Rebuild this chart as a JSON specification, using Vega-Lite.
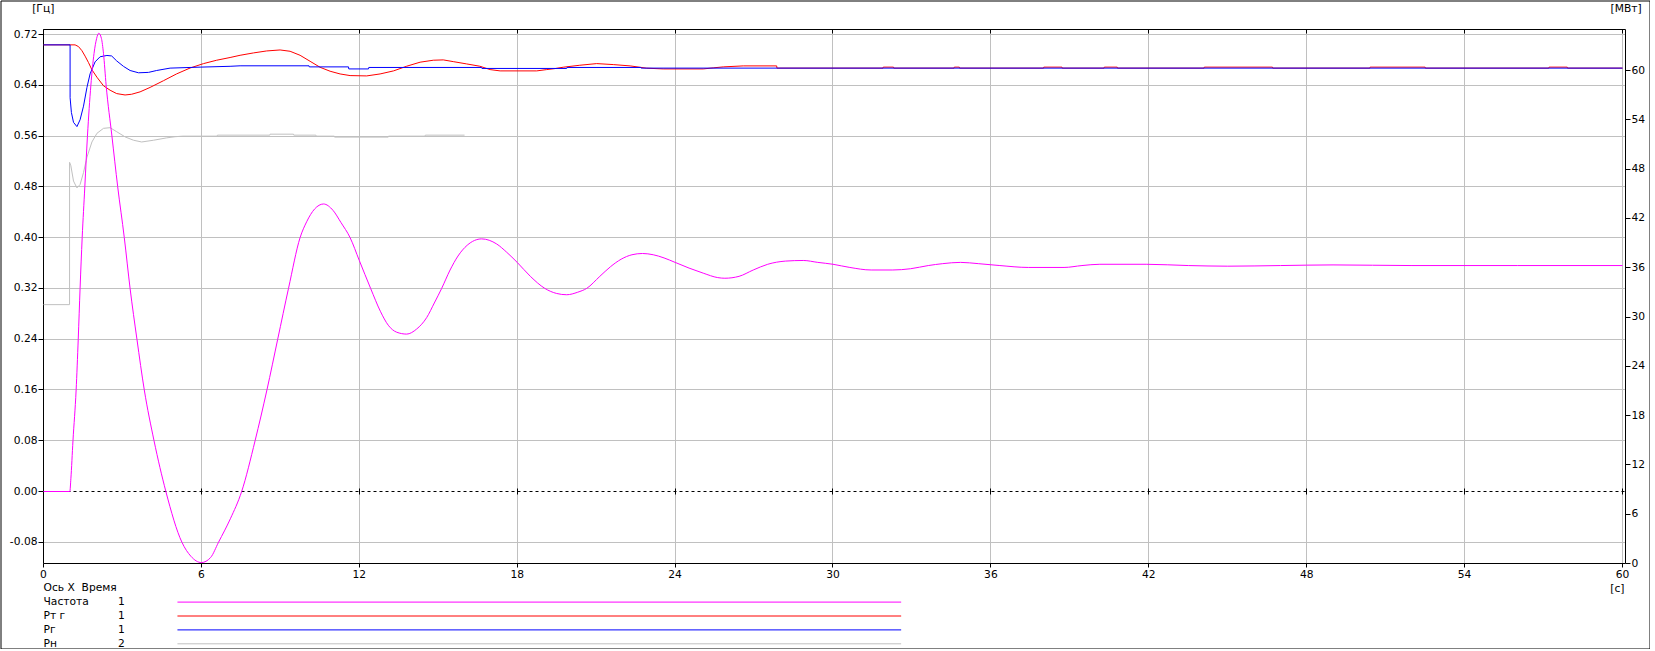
{
  "$schema": "https://vega.github.io/schema/vega-lite/v6.json",
  "width": 1649,
  "height": 648,
  "padding": {"left": 0.5, "top": 0.5, "right": 0.5, "bottom": 0.5},
  "autosize": {"type": "none"},
  "background": "#ffffff",
  "config": {
    "font": "DejaVu Sans",
    "view": {"stroke": "#000000", "strokeWidth": 1},
    "axis": {
      "labelFont": "DejaVu Sans", "labelFontSize": 10.7, "labelColor": "#000000",
      "titleFont": "DejaVu Sans", "titleFontSize": 10.7, "titleFontWeight": "normal", "titleColor": "#000000",
      "domainColor": "#000000", "tickColor": "#000000", "gridColor": "#c0c0c0",
      "domainWidth": 1, "tickWidth": 1, "gridWidth": 1, "translate": 0, "labelFlush": false, "labelOverlap": false
    }
  },
  "datasets": {
    "curves": [
      {"s":"Частота","t":0,"v":0},{"s":"Частота","t":1.0,"v":0},{"s":"Частота","t":1.04,"v":0.02},{"s":"Частота","t":1.12,"v":0.08},{"s":"Частота","t":1.24,"v":0.16},{"s":"Частота","t":1.32,"v":0.24},{"s":"Частота","t":1.39,"v":0.32},{"s":"Частота","t":1.47,"v":0.40},{"s":"Частота","t":1.57,"v":0.48},{"s":"Частота","t":1.67,"v":0.56},{"s":"Частота","t":1.8,"v":0.64},{"s":"Частота","t":1.92,"v":0.69},{"s":"Частота","t":2.02,"v":0.714},{"s":"Частота","t":2.1,"v":0.722},{"s":"Частота","t":2.2,"v":0.714},{"s":"Частота","t":2.28,"v":0.69},{"s":"Частота","t":2.38,"v":0.64},{"s":"Частота","t":2.6,"v":0.56},{"s":"Частота","t":2.82,"v":0.48},{"s":"Частота","t":3.07,"v":0.40},{"s":"Частота","t":3.29,"v":0.32},{"s":"Частота","t":3.55,"v":0.24},{"s":"Частота","t":3.83,"v":0.16},{"s":"Частота","t":4.2,"v":0.08},{"s":"Частота","t":4.65,"v":0},{"s":"Частота","t":5.26,"v":-0.08},{"s":"Частота","t":5.6,"v":-0.102},{"s":"Частота","t":6.0,"v":-0.112},{"s":"Частота","t":6.35,"v":-0.104},{"s":"Частота","t":6.65,"v":-0.08},{"s":"Частота","t":7.1,"v":-0.043},{"s":"Частота","t":7.53,"v":0},{"s":"Частота","t":8.04,"v":0.08},{"s":"Частота","t":8.49,"v":0.16},{"s":"Частота","t":8.9,"v":0.24},{"s":"Частота","t":9.31,"v":0.32},{"s":"Частота","t":9.75,"v":0.40},{"s":"Частота","t":10.0,"v":0.425},{"s":"Частота","t":10.3,"v":0.445},{"s":"Частота","t":10.64,"v":0.453},{"s":"Частота","t":11.0,"v":0.443},{"s":"Частота","t":11.3,"v":0.424},{"s":"Частота","t":11.65,"v":0.40},{"s":"Частота","t":12.0,"v":0.364},{"s":"Частота","t":12.43,"v":0.32},{"s":"Частота","t":12.8,"v":0.284},{"s":"Частота","t":13.1,"v":0.262},{"s":"Частота","t":13.42,"v":0.251},{"s":"Частота","t":13.8,"v":0.248},{"s":"Частота","t":14.18,"v":0.256},{"s":"Частота","t":14.56,"v":0.274},{"s":"Частота","t":14.85,"v":0.297},{"s":"Частота","t":15.13,"v":0.32},{"s":"Частота","t":15.45,"v":0.349},{"s":"Частота","t":15.75,"v":0.371},{"s":"Частота","t":16.1,"v":0.388},{"s":"Частота","t":16.65,"v":0.398},{"s":"Частота","t":17.22,"v":0.39},{"s":"Частота","t":17.6,"v":0.377},{"s":"Частота","t":18.0,"v":0.361},{"s":"Частота","t":18.5,"v":0.339},{"s":"Частота","t":19.05,"v":0.32},{"s":"Частота","t":19.5,"v":0.312},{"s":"Частота","t":19.88,"v":0.31},{"s":"Частота","t":20.3,"v":0.314},{"s":"Частота","t":20.64,"v":0.32},{"s":"Частота","t":21.14,"v":0.339},{"s":"Частота","t":21.54,"v":0.354},{"s":"Частота","t":21.95,"v":0.366},{"s":"Частота","t":22.36,"v":0.373},{"s":"Частота","t":22.76,"v":0.375},{"s":"Частота","t":23.17,"v":0.373},{"s":"Частота","t":23.58,"v":0.368},{"s":"Частота","t":24.0,"v":0.361},{"s":"Частота","t":24.53,"v":0.352},{"s":"Частота","t":25.07,"v":0.344},{"s":"Частота","t":25.62,"v":0.337},{"s":"Частота","t":25.89,"v":0.336},{"s":"Частота","t":26.43,"v":0.339},{"s":"Частота","t":26.97,"v":0.349},{"s":"Частота","t":27.52,"v":0.358},{"s":"Частота","t":28.19,"v":0.363},{"s":"Частота","t":28.87,"v":0.364},{"s":"Частота","t":29.42,"v":0.361},{"s":"Частота","t":30.0,"v":0.358},{"s":"Частота","t":30.64,"v":0.353},{"s":"Частота","t":31.45,"v":0.349},{"s":"Частота","t":32.27,"v":0.349},{"s":"Частота","t":32.95,"v":0.351},{"s":"Частота","t":33.62,"v":0.356},{"s":"Частота","t":34.17,"v":0.359},{"s":"Частота","t":34.85,"v":0.361},{"s":"Частота","t":35.52,"v":0.359},{"s":"Частота","t":36.34,"v":0.356},{"s":"Частота","t":37.42,"v":0.353},{"s":"Частота","t":38.78,"v":0.353},{"s":"Частота","t":39.46,"v":0.356},{"s":"Частота","t":40.14,"v":0.358},{"s":"Частота","t":41.9,"v":0.358},{"s":"Частота","t":43.5,"v":0.356},{"s":"Частота","t":45.0,"v":0.355},{"s":"Частота","t":47.0,"v":0.356},{"s":"Частота","t":49.0,"v":0.357},{"s":"Частота","t":52.0,"v":0.356},{"s":"Частота","t":56.0,"v":0.356},{"s":"Частота","t":60.0,"v":0.356},

      {"s":"Рт г","t":0,"v":63.13},{"s":"Рт г","t":1.2,"v":63.13},{"s":"Рт г","t":1.33,"v":62.92},{"s":"Рт г","t":1.46,"v":62.42},{"s":"Рт г","t":1.58,"v":61.76},{"s":"Рт г","t":1.71,"v":60.97},{"s":"Рт г","t":1.84,"v":60.1},{"s":"Рт г","t":2.03,"v":59.19},{"s":"Рт г","t":2.28,"v":58.15},{"s":"Рт г","t":2.53,"v":57.61},{"s":"Рт г","t":2.78,"v":57.2},{"s":"Рт г","t":3.1,"v":57.03},{"s":"Рт г","t":3.35,"v":57.12},{"s":"Рт г","t":3.67,"v":57.41},{"s":"Рт г","t":4.05,"v":57.95},{"s":"Рт г","t":4.56,"v":58.77},{"s":"Рт г","t":5.06,"v":59.6},{"s":"Рт г","t":5.57,"v":60.31},{"s":"Рт г","t":6.08,"v":60.85},{"s":"Рт г","t":6.58,"v":61.26},{"s":"Рт г","t":7.09,"v":61.59},{"s":"Рт г","t":7.47,"v":61.86},{"s":"Рт г","t":7.98,"v":62.15},{"s":"Рт г","t":8.48,"v":62.39},{"s":"Рт г","t":8.99,"v":62.51},{"s":"Рт г","t":9.37,"v":62.35},{"s":"Рт г","t":9.75,"v":61.86},{"s":"Рт г","t":10.13,"v":61.13},{"s":"Рт г","t":10.51,"v":60.4},{"s":"Рт г","t":10.89,"v":59.92},{"s":"Рт г","t":11.27,"v":59.59},{"s":"Рт г","t":11.65,"v":59.39},{"s":"Рт г","t":12.28,"v":59.35},{"s":"Рт г","t":12.79,"v":59.59},{"s":"Рт г","t":13.3,"v":59.96},{"s":"Рт г","t":13.8,"v":60.53},{"s":"Рт г","t":14.31,"v":61.02},{"s":"Рт г","t":14.81,"v":61.26},{"s":"Рт г","t":15.19,"v":61.3},{"s":"Рт г","t":15.57,"v":61.09},{"s":"Рт г","t":16.08,"v":60.81},{"s":"Рт г","t":16.58,"v":60.53},{"s":"Рт г","t":16.97,"v":60.12},{"s":"Рт г","t":17.35,"v":59.96},{"s":"Рт г","t":18.74,"v":59.96},{"s":"Рт г","t":19.12,"v":60.12},{"s":"Рт г","t":19.43,"v":60.24},{"s":"Рт г","t":19.75,"v":60.41},{"s":"Рт г","t":20.38,"v":60.65},{"s":"Рт г","t":21.02,"v":60.85},{"s":"Рт г","t":21.65,"v":60.73},{"s":"Рт г","t":22.29,"v":60.57},{"s":"Рт г","t":22.92,"v":60.29},{"s":"Рт г","t":23.55,"v":60.2},{"s":"Рт г","t":25.07,"v":60.2},{"s":"Рт г","t":25.45,"v":60.33},{"s":"Рт г","t":25.83,"v":60.45},{"s":"Рт г","t":26.59,"v":60.57},{"s":"Рт г","t":27.86,"v":60.57},{"s":"Рт г","t":27.87,"v":60.3},{"s":"Рт г","t":31.9,"v":60.3},{"s":"Рт г","t":31.91,"v":60.42},{"s":"Рт г","t":32.3,"v":60.42},{"s":"Рт г","t":32.31,"v":60.3},{"s":"Рт г","t":34.6,"v":60.3},{"s":"Рт г","t":34.61,"v":60.42},{"s":"Рт г","t":34.8,"v":60.42},{"s":"Рт г","t":34.81,"v":60.3},{"s":"Рт г","t":38.0,"v":60.3},{"s":"Рт г","t":38.01,"v":60.42},{"s":"Рт г","t":38.7,"v":60.42},{"s":"Рт г","t":38.71,"v":60.3},{"s":"Рт г","t":40.3,"v":60.3},{"s":"Рт г","t":40.31,"v":60.42},{"s":"Рт г","t":40.8,"v":60.42},{"s":"Рт г","t":40.81,"v":60.3},{"s":"Рт г","t":44.1,"v":60.3},{"s":"Рт г","t":44.11,"v":60.42},{"s":"Рт г","t":46.7,"v":60.42},{"s":"Рт г","t":46.71,"v":60.3},{"s":"Рт г","t":50.4,"v":60.3},{"s":"Рт г","t":50.41,"v":60.42},{"s":"Рт г","t":52.5,"v":60.42},{"s":"Рт г","t":52.51,"v":60.3},{"s":"Рт г","t":57.2,"v":60.3},{"s":"Рт г","t":57.21,"v":60.42},{"s":"Рт г","t":57.9,"v":60.42},{"s":"Рт г","t":57.91,"v":60.3},{"s":"Рт г","t":60,"v":60.3},

      {"s":"Рг","t":0,"v":63.13},{"s":"Рг","t":1.01,"v":63.13},{"s":"Рг","t":1.011,"v":56.7},{"s":"Рг","t":1.06,"v":54.9},{"s":"Рг","t":1.14,"v":53.7},{"s":"Рг","t":1.27,"v":53.18},{"s":"Рг","t":1.39,"v":54.01},{"s":"Рг","t":1.52,"v":55.67},{"s":"Рг","t":1.65,"v":57.94},{"s":"Рг","t":1.77,"v":59.6},{"s":"Рг","t":1.96,"v":61.06},{"s":"Рг","t":2.15,"v":61.68},{"s":"Рг","t":2.41,"v":61.84},{"s":"Рг","t":2.59,"v":61.78},{"s":"Рг","t":2.78,"v":61.18},{"s":"Рг","t":3.04,"v":60.51},{"s":"Рг","t":3.29,"v":60.01},{"s":"Рг","t":3.61,"v":59.73},{"s":"Рг","t":3.99,"v":59.78},{"s":"Рг","t":4.3,"v":60.01},{"s":"Рг","t":4.81,"v":60.3},{"s":"Рг","t":5.95,"v":60.42},{"s":"Рг","t":7.09,"v":60.52},{"s":"Рг","t":7.47,"v":60.58},{"s":"Рг","t":10.09,"v":60.58},{"s":"Рг","t":10.1,"v":60.45},{"s":"Рг","t":11.59,"v":60.45},{"s":"Рг","t":11.6,"v":60.2},{"s":"Рг","t":12.35,"v":60.2},{"s":"Рг","t":12.36,"v":60.38},{"s":"Рг","t":16.65,"v":60.38},{"s":"Рг","t":16.66,"v":60.26},{"s":"Рг","t":19.88,"v":60.26},{"s":"Рг","t":19.89,"v":60.38},{"s":"Рг","t":22.7,"v":60.38},{"s":"Рг","t":22.71,"v":60.3},{"s":"Рг","t":60,"v":60.3},

      {"s":"Рн","t":0,"v":31.51},{"s":"Рн","t":0.99,"v":31.51},{"s":"Рн","t":0.991,"v":48.83},{"s":"Рн","t":1.04,"v":48.41},{"s":"Рн","t":1.14,"v":46.55},{"s":"Рн","t":1.27,"v":45.72},{"s":"Рн","t":1.39,"v":46.13},{"s":"Рн","t":1.52,"v":47.58},{"s":"Рн","t":1.65,"v":49.45},{"s":"Рн","t":1.84,"v":51.31},{"s":"Рн","t":2.03,"v":52.36},{"s":"Рн","t":2.28,"v":52.97},{"s":"Рн","t":2.53,"v":53.05},{"s":"Рн","t":2.78,"v":52.56},{"s":"Рн","t":3.1,"v":51.93},{"s":"Рн","t":3.42,"v":51.52},{"s":"Рн","t":3.73,"v":51.31},{"s":"Рн","t":4.18,"v":51.52},{"s":"Рн","t":4.68,"v":51.81},{"s":"Рн","t":5.0,"v":51.95},{"s":"Рн","t":5.3,"v":52.02},{"s":"Рн","t":6.6,"v":52.02},{"s":"Рн","t":6.61,"v":52.14},{"s":"Рн","t":8.6,"v":52.14},{"s":"Рн","t":8.61,"v":52.26},{"s":"Рн","t":9.5,"v":52.26},{"s":"Рн","t":9.51,"v":52.14},{"s":"Рн","t":10.35,"v":52.14},{"s":"Рн","t":10.36,"v":52.02},{"s":"Рн","t":11.05,"v":52.02},{"s":"Рн","t":11.06,"v":51.9},{"s":"Рн","t":13.1,"v":51.9},{"s":"Рн","t":13.11,"v":52.02},{"s":"Рн","t":14.5,"v":52.02},{"s":"Рн","t":14.51,"v":52.14},{"s":"Рн","t":16.0,"v":52.14}
    ],
    "legend": [
      {"s": "Ось X\u00a0 Время", "n": ""},
      {"s": "Частота", "n": "1"},
      {"s": "Рт г", "n": "1"},
      {"s": "Рг", "n": "1"},
      {"s": "Рн", "n": "2"}
    ],
    "reference": [
      {"name": "zero", "v": 0}
    ]
  },
  "resolve": {"scale": {"y": "independent"}, "axis": {"x": "independent", "y": "independent"}},
  "layer": [
    {
      "data": {"name": "reference"},
      "mark": {"type": "rule", "color": "#000000", "strokeWidth": 1, "strokeDash": [3, 3]},
      "encoding": {
        "x": {"datum": 0, "type": "quantitative",
          "scale": {"domain": [0, 60.114], "range": [43, 1625], "nice": false, "zero": false},
          "axis": {"orient": "top", "offset": -488, "values": [6,12,18,24,30,36,42,48,54,60], "grid": false,
            "domain": false, "ticks": true, "tickSize": -6, "labels": false, "title": null}},
        "x2": {"datum": 60.114},
        "y": {"field": "v", "type": "quantitative",
          "scale": {"domain": [-0.11344, 0.72791], "range": [563, 29], "nice": false, "zero": false},
          "axis": {"orient": "left", "offset": 0, "values": [-0.08,0.08,0.16,0.24,0.32,0.4,0.48,0.56,0.64,0.72], "grid": true,
            "domain": false, "ticks": false, "labels": false, "title": null}}
      }
    },
    {
      "data": {"name": "curves"},
      "encoding": {
        "x": {"field": "t", "type": "quantitative",
          "scale": {"domain": [0, 60.114], "range": [43, 1625], "nice": false, "zero": false},
          "axis": {"orient": "top", "offset": -29, "labels": false, "tickSize": -4, "grid": true, "title": null,
            "values": [0,6,12,18,24,30,36,42,48,54,60]}},
        "y": {"field": "v", "type": "quantitative",
          "scale": {"domain": [0, 65], "range": [563, 29], "nice": false, "zero": false},
          "axis": {"orient": "right", "offset": -24, "values": [0,6,12,18,24,30,36,42,48,54,60], "grid": false,
            "tickSize": 5, "labelPadding": 1, "title": "[МВт]", "titleAngle": 0, "titleX": -15, "titleY": 11.7,
            "titleAlign": "left", "titleBaseline": "alphabetic"}},
        "color": {"field": "s", "type": "nominal",
          "scale": {"domain": ["Частота", "Рт г", "Рг", "Рн"], "range": ["#ff00ff", "#ff0000", "#0000ff", "#c0c0c0"]},
          "legend": null}
      },
      "layer": [
        {"transform": [{"filter": "datum.s == 'Рт г'"}], "mark": {"type": "line", "strokeWidth": 1}},
        {"transform": [{"filter": "datum.s == 'Рг'"}], "mark": {"type": "line", "strokeWidth": 1}},
        {"transform": [{"filter": "datum.s == 'Рн'"}], "mark": {"type": "line", "strokeWidth": 1}}
      ]
    },
    {
      "data": {"name": "curves"},
      "transform": [{"filter": "datum.s == 'Частота'"}],
      "mark": {"type": "line", "strokeWidth": 1, "interpolate": "monotone"},
      "encoding": {
        "x": {"field": "t", "type": "quantitative",
          "scale": {"domain": [0, 60.114], "range": [43, 1625], "nice": false, "zero": false},
          "axis": {"orient": "bottom", "offset": -85, "values": [0,6,12,18,24,30,36,42,48,54,60], "grid": false,
            "tickSize": 4, "labelPadding": 2, "title": "[с]", "titleX": 1624, "titleY": 28.5,
            "titleAlign": "right", "titleBaseline": "alphabetic"}},
        "y": {"field": "v", "type": "quantitative",
          "scale": {"domain": [-0.11344, 0.72791], "range": [563, 29], "nice": false, "zero": false},
          "axis": {"orient": "left", "offset": -43, "values": [-0.08,0,0.08,0.16,0.24,0.32,0.4,0.48,0.56,0.64,0.72],
            "labelExpr": "datum.value < 0 ? '-' + format(-datum.value, '.2f') : format(datum.value, '.2f')",
            "grid": false,
            "tickSize": 5, "labelPadding": 1, "title": "[Гц]", "titleAngle": 0, "titleX": -11.3, "titleY": 11.7,
            "titleAlign": "left", "titleBaseline": "alphabetic"}},
        "color": {"field": "s", "type": "nominal",
          "scale": {"domain": ["Частота", "Рт г", "Рг", "Рн"], "range": ["#ff00ff", "#ff0000", "#0000ff", "#c0c0c0"]},
          "legend": null}
      }
    },
    {
      "data": {"name": "legend"},
      "encoding": {
        "y": {"field": "s", "type": "nominal",
          "scale": {"type": "point", "domain": ["Ось X\u00a0 Время", "Частота", "Рт г", "Рг", "Рн"], "range": [587.7, 643.3], "padding": 0},
          "axis": null}
      },
      "layer": [
        {"mark": {"type": "text", "align": "left", "baseline": "middle", "font": "DejaVu Sans", "fontSize": 10.7, "color": "#000000"},
         "encoding": {"x": {"datum": 0, "type": "quantitative", "axis": null}, "text": {"field": "s"}}},
        {"mark": {"type": "text", "align": "left", "baseline": "middle", "font": "DejaVu Sans", "fontSize": 10.7, "color": "#000000"},
         "encoding": {"x": {"datum": 2.83, "type": "quantitative", "axis": null}, "text": {"field": "n"}}},
        {"transform": [{"filter": "datum.n != ''"}],
         "mark": {"type": "rule", "strokeWidth": 1},
         "encoding": {"x": {"datum": 5.09, "type": "quantitative", "axis": null}, "x2": {"datum": 32.59},
           "color": {"field": "s", "type": "nominal",
             "scale": {"domain": ["Частота", "Рт г", "Рг", "Рн"], "range": ["#ff00ff", "#ff0000", "#0000ff", "#c0c0c0"]},
             "legend": null}}}
      ]
    }
  ]
}
